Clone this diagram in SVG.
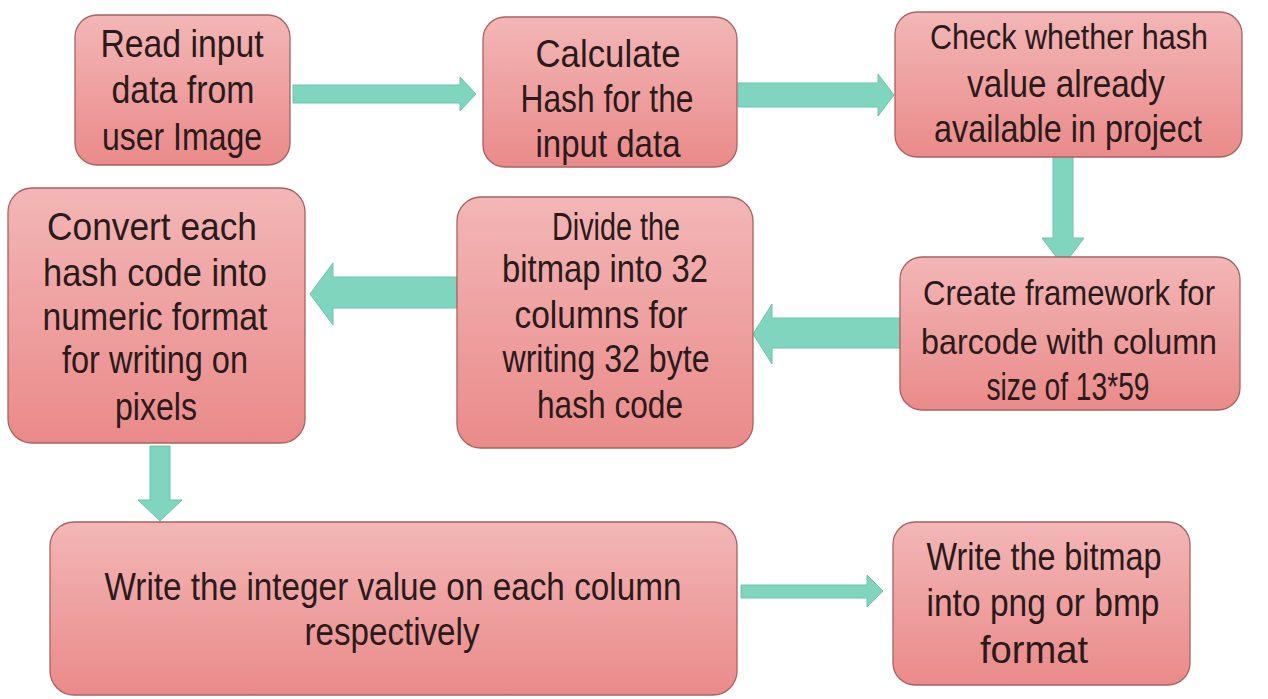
<svg xmlns="http://www.w3.org/2000/svg" width="1268" height="699" viewBox="0 0 1268 699">
<defs>
<linearGradient id="boxg" x1="0" y1="0" x2="0" y2="1">
<stop offset="0" stop-color="#f3b6b6"/>
<stop offset="1" stop-color="#ea8a8a"/>
</linearGradient>
</defs>
<style>
.box{fill:url(#boxg);stroke:#a86262;stroke-width:1.3}
.lbl{font-family:"Liberation Sans",Arial,sans-serif;font-size:39px;fill:#2a1a1a;text-anchor:middle}
.sm{font-size:35px}
.arr{fill:#80d5bf;stroke:#6cc3ad;stroke-width:1}
</style>
<rect width="1268" height="699" fill="#ffffff"/>
<g id="connectors">
<polygon class="arr" points="293,85 460,85 460,77 476,94 460,111 460,103 293,103"/>
<polygon class="arr" points="738,83 878,83 878,74 894,95 878,116 878,107 738,107"/>
<polygon class="arr" points="1053,157 1073,157 1073,238 1084,238 1063,266 1042,238 1053,238"/>
<polygon class="arr" points="900,318 772,318 772,304 753,334 772,364 772,348 900,348"/>
<polygon class="arr" points="457,277 333,277 333,263 310,294 333,325 333,308 457,308"/>
<polygon class="arr" points="150,446 170,446 170,500 182,500 160,521 138,500 150,500"/>
<polygon class="arr" points="741,585 867,585 867,575 883,591 867,607 867,598 741,598"/>
</g>
<g id="n1">
<rect class="box" x="75" y="15" width="215" height="150" rx="22"/>
<text class="lbl" x="182" y="57" textLength="163" lengthAdjust="spacingAndGlyphs">Read input</text>
<text class="lbl" x="183" y="103" textLength="143" lengthAdjust="spacingAndGlyphs">data from</text>
<text class="lbl" x="182" y="150" textLength="160" lengthAdjust="spacingAndGlyphs">user Image</text>
</g>
<g id="n2">
<rect class="box" x="483" y="17" width="254" height="150" rx="22"/>
<text class="lbl" x="608" y="67" textLength="145" lengthAdjust="spacingAndGlyphs">Calculate</text>
<text class="lbl" x="607" y="112" textLength="173" lengthAdjust="spacingAndGlyphs">Hash for the</text>
<text class="lbl" x="608" y="157" textLength="145" lengthAdjust="spacingAndGlyphs">input data</text>
</g>
<g id="n3">
<rect class="box" x="895" y="12" width="347" height="145" rx="22"/>
<text class="lbl sm" x="1069" y="49" textLength="278" lengthAdjust="spacingAndGlyphs">Check whether hash</text>
<text class="lbl" x="1066" y="97" textLength="198" lengthAdjust="spacingAndGlyphs">value already</text>
<text class="lbl" x="1068" y="142" textLength="268" lengthAdjust="spacingAndGlyphs">available in project</text>
</g>
<g id="n4">
<rect class="box" x="900" y="257" width="340" height="153" rx="22"/>
<text class="lbl sm" x="1069" y="305" textLength="292" lengthAdjust="spacingAndGlyphs">Create framework for</text>
<text class="lbl sm" x="1069" y="354" textLength="296" lengthAdjust="spacingAndGlyphs">barcode with column</text>
<text class="lbl" x="1068" y="400" textLength="163" lengthAdjust="spacingAndGlyphs">size of 13*59</text>
</g>
<g id="n5">
<rect class="box" x="457" y="197" width="296" height="251" rx="24"/>
<text class="lbl" x="616" y="240" textLength="128" lengthAdjust="spacingAndGlyphs">Divide the</text>
<text class="lbl" x="605" y="282" textLength="206" lengthAdjust="spacingAndGlyphs">bitmap into 32</text>
<text class="lbl" x="601" y="328" textLength="173" lengthAdjust="spacingAndGlyphs">columns for</text>
<text class="lbl" x="606" y="372" textLength="207" lengthAdjust="spacingAndGlyphs">writing 32 byte</text>
<text class="lbl" x="610" y="418" textLength="146" lengthAdjust="spacingAndGlyphs">hash code</text>
</g>
<g id="n6">
<rect class="box" x="8" y="188" width="297" height="255" rx="24"/>
<text class="lbl" x="152" y="240" textLength="210" lengthAdjust="spacingAndGlyphs">Convert each</text>
<text class="lbl" x="155" y="286" textLength="224" lengthAdjust="spacingAndGlyphs">hash code into</text>
<text class="lbl" x="155" y="330" textLength="225" lengthAdjust="spacingAndGlyphs">numeric format</text>
<text class="lbl" x="155" y="373" textLength="186" lengthAdjust="spacingAndGlyphs">for writing on</text>
<text class="lbl" x="156" y="420" textLength="82" lengthAdjust="spacingAndGlyphs">pixels</text>
</g>
<g id="n7">
<rect class="box" x="50" y="522" width="687" height="173" rx="24"/>
<text class="lbl" x="393" y="600" textLength="577" lengthAdjust="spacingAndGlyphs">Write the integer value on each column</text>
<text class="lbl" x="392" y="645" textLength="175" lengthAdjust="spacingAndGlyphs">respectively</text>
</g>
<g id="n8">
<rect class="box" x="893" y="522" width="297" height="163" rx="22"/>
<text class="lbl" x="1044" y="570" textLength="235" lengthAdjust="spacingAndGlyphs">Write the bitmap</text>
<text class="lbl" x="1043" y="616" textLength="233" lengthAdjust="spacingAndGlyphs">into png or bmp</text>
<text class="lbl" x="1034" y="663" textLength="108" lengthAdjust="spacingAndGlyphs">format</text>
</g>
</svg>
